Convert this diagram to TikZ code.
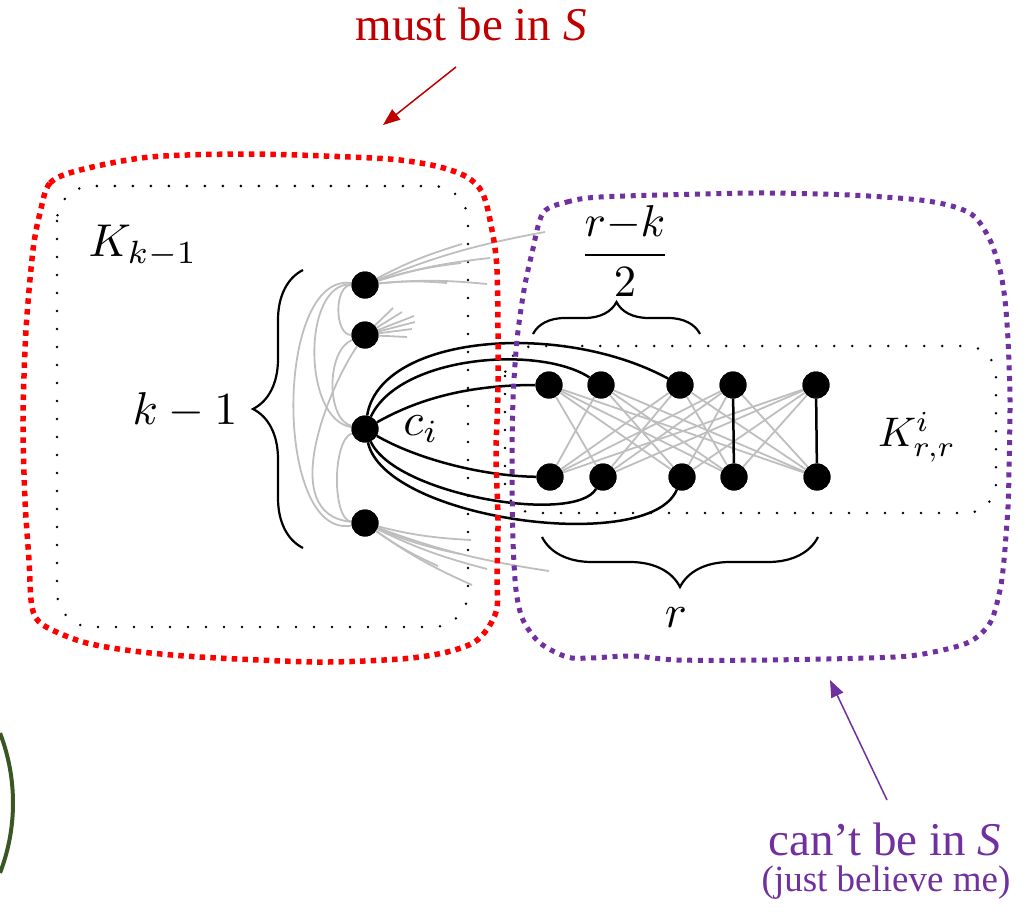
\documentclass[tikz,border=0pt]{standalone}
\usepackage{fontspec}
\newfontfamily\annfont{Liberation Serif}
\usetikzlibrary{arrows.meta,decorations.pathreplacing}
\definecolor{textred}{RGB}{192,0,0}
\definecolor{boxred}{RGB}{255,0,0}
\definecolor{boxpurple}{RGB}{112,48,160}
\definecolor{edgegray}{RGB}{190,190,190}
\definecolor{arcgreen}{RGB}{56,87,35}
\begin{document}
\begin{tikzpicture}[x=1pt,y=-1pt,
  vtx/.style={circle,fill=black,inner sep=0pt,minimum size=27pt},
  grayedge/.style={draw=edgegray,line width=1.8pt},
  blackedge/.style={draw=black,line width=2.5pt},
  reddots/.style={draw=boxred,line width=5.5pt,dash pattern=on 5.5pt off 5.2pt},
  purpledots/.style={draw=boxpurple,line width=5pt,dash pattern=on 5pt off 5.7pt},
  blackdots/.style={draw=black,line width=2.8pt,line cap=round,dash pattern=on 0pt off 18pt},
  bracestyle/.style={draw=black,line width=2.2pt,decorate,decoration={brace,amplitude=#1}},
  mathlbl/.style={inner sep=0pt,scale=4.6},
  redtext/.style={font=\annfont\fontsize{47}{52}\selectfont,text=textred,inner sep=0pt},
  purpletext/.style={font=\annfont\fontsize{47}{52}\selectfont,text=boxpurple,inner sep=0pt},
  smallpurple/.style={font=\annfont\fontsize{37}{42}\selectfont,text=boxpurple,inner sep=0pt},
  redarrow/.style={draw=textred,line width=1.5pt,-{Triangle[length=17pt,width=13pt]}},
  purplearrow/.style={draw=boxpurple,line width=1.5pt,-{Triangle[length=17pt,width=13pt]}},
  greenarc/.style={draw=arcgreen,line width=4pt}
]
\useasboundingbox (0,0) rectangle (1031,911);

% dotted inner boxes
\draw[blackdots,rounded corners=35pt] (57,186) rectangle (468,627);
\draw[blackdots,rounded corners=30pt] (505,346) rectangle (996,513);

% vertices
\node[vtx] (v1) at (365,285) {};
\node[vtx] (v2) at (365,335) {};
\node[vtx] (ci) at (365,429) {};
\node[vtx] (v4) at (365,523) {};
\foreach \i/\x in {1/549,2/601,3/680,4/733,5/816}{
  \node[vtx] (t\i) at (\x,385) {};
}
\foreach \i/\x in {1/550,2/603,3/682,4/734,5/817}{
  \node[vtx] (b\i) at (\x,477) {};
}

% gray edges inside K_{k-1}
\draw[grayedge] (v1) .. controls (274,272) and (274,540) .. (v4);
\draw[grayedge] (v1) .. controls (302,282) and (302,420) .. (ci);
\draw[grayedge] (v1) .. controls (334,285) and (334,335) .. (v2);
\draw[grayedge] (v2) .. controls (326,350) and (326,420) .. (ci);
\draw[grayedge] (v2) .. controls (330,385) and (275,515) .. (v4);
\draw[grayedge] (ci) .. controls (332,440) and (332,520) .. (v4);

% gray fans (edges leaving the picture)
\coordinate (fa1) at (462,244);
\coordinate (fa2) at (545,232);
\coordinate (fa3) at (461,263);
\coordinate (fa4) at (490,258);
\coordinate (fa5) at (447,283);
\coordinate (fa6) at (487,284);
\coordinate (fb1) at (393,308);
\coordinate (fb2) at (402,312);
\coordinate (fb3) at (414,316);
\coordinate (fb4) at (415,322);
\coordinate (fb5) at (412,329);
\coordinate (fb6) at (407,337);
\coordinate (fc1) at (471,540);
\coordinate (fc2) at (549,571);
\coordinate (fc3) at (460,554);
\coordinate (fc4) at (487,569);
\coordinate (fc5) at (438,566);
\coordinate (fc6) at (472,585);
\foreach \n in {1,...,6}{
  \draw[grayedge] (v1.center) to[bend left=6] (fa\n);
  \draw[grayedge] (v2.center) -- (fb\n);
  \draw[grayedge] (v4.center) to[bend right=6] (fc\n);
}

% K_{r,r} gray edges
\foreach \i in {1,...,5}{
  \foreach \j in {1,...,5}{
    \ifnum\i=\j\else
      \draw[grayedge] (t\i) -- (b\j);
    \fi
  }
}
\draw[blackedge] (t4) -- (b4);
\draw[blackedge] (t5) -- (b5);

% black edges from c_i
\draw[blackedge] (ci) .. controls (420,398) and (470,385) .. (t1);
\draw[blackedge] (ci) .. controls (400,355) and (540,345) .. (t2);
\draw[blackedge] (ci) .. controls (380,335) and (560,320) .. (t3);
\draw[blackedge] (ci) .. controls (415,458) and (480,476) .. (b1);
\draw[blackedge] (ci) .. controls (395,495) and (575,525) .. (b2);
\draw[blackedge] (ci) .. controls (385,520) and (650,555) .. (b3);

% vertices redrawn on top
\foreach \v in {v1,v2,ci,v4,t1,t2,t3,t4,t5,b1,b2,b3,b4,b5}{
  \fill (\v) circle[radius=13.5pt];
}

% red box
\draw[reddots] plot[smooth cycle] coordinates {
  (40,213) (50,183) (80,170) (150,157) (250,154) (350,157) (400,160) (440,167)
  (467,177) (482,192) (490,220) (497,270) (498,387) (496,453) (498,520) (497,577)
  (497,608) (488,628) (473,643) (443,653) (400,659) (317,662) (200,657) (133,651)
  (83,642) (43,625) (32,607) (29,560) (25,500) (23,420) (26,330) (33,250)};

% purple box
\draw[purpledots] plot[smooth cycle] coordinates {
  (543,213) (567,202) (600,197) (700,194) (767,193) (850,195) (920,200) (955,207)
  (975,217) (990,240) (1000,270) (1005,300) (1008,340) (1010,400) (1009,470) (1008,507)
  (1004,560) (1000,590) (990,623) (967,643) (917,655) (867,658) (767,660) (677,660)
  (633,656) (590,658) (567,657) (540,643) (523,620) (516,590) (513,540) (512,470)
  (513,400) (517,340) (524,290) (532,253)};

% braces
\draw[bracestyle=50] (303,548) -- (303,270);
\draw[bracestyle=32] (533,334) -- (700,334);
\draw[bracestyle=50] (818,537) -- (542,537);

% math labels
\node[mathlbl] (kk) at (143,246) {$K_{k-1}$};
\node[mathlbl] (km1) at (185,410) {$k-1$};
\node[mathlbl] (cil) at (421,429) {$c_i$};
\node[mathlbl,scale=0.9] (krr) at (917,437) {$K^i_{r,r}$};
\node[mathlbl,scale=0.97] (frac) at (625,251) {$\displaystyle\frac{r{-}k}{2}$};
\node[mathlbl] (rl) at (676,618) {$r$};

% annotations
\node[redtext,anchor=base] (must) at (471,40) {must be in \textit{S}};
\coordinate (redtail) at (456,67);
\coordinate (redtip) at (383,125);
\draw[redarrow] (redtail) -- (redtip);

\node[purpletext,anchor=base] (cant) at (885,855) {can’t be in \textit{S}};
\node[smallpurple,anchor=base] (believe) at (886,891) {(just believe me)};
\coordinate (ptail) at (887,800);
\coordinate (ptip) at (830,680);
\draw[purplearrow] (ptail) -- (ptip);

% green arc at left edge
\draw[greenarc] (-182,803) ++(-21:195) arc[start angle=-21,end angle=21,radius=195];
\end{tikzpicture}
\end{document}
